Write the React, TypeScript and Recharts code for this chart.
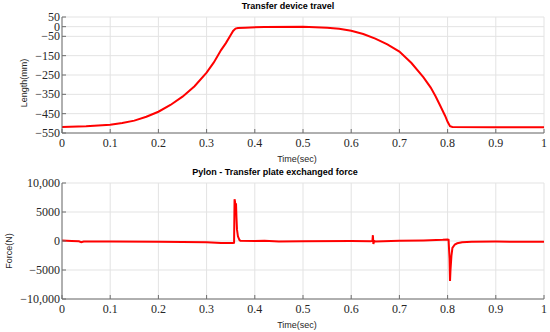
import { LineChart, Line, XAxis, YAxis, CartesianGrid, Label } from "recharts"

const timeTicks = [0, 0.1, 0.2, 0.3, 0.4, 0.5, 0.6, 0.7, 0.8, 0.9, 1]
const lengthTicks = [50, 0, -50, -150, -250, -350, -450, -550]
const forceTicks = [10000, 5000, 0, -5000, -10000]

const travelTime = [
  0, 0.05, 0.1, 0.125, 0.15, 0.175, 0.2, 0.225, 0.25, 0.275, 0.3, 0.315, 0.33, 0.34, 0.35,
  0.355, 0.36, 0.365, 0.38, 0.42, 0.5, 0.55, 0.575, 0.6, 0.625, 0.65, 0.675, 0.7, 0.725,
  0.75, 0.765, 0.775, 0.785, 0.795, 0.8, 0.805, 0.81, 0.9, 1,
]
const travelLength = [
  -519, -515, -507, -498, -486, -466, -440, -405, -362, -308, -238, -185, -121, -85, -43,
  -22, -10, -7, -5, -2, -1, -5, -11, -21, -38, -62, -92, -129, -188,
  -262, -315, -360, -410, -462, -492, -515, -519, -520, -520,
]

const forceTime = [
  0, 0.01, 0.02, 0.035, 0.04, 0.045, 0.1, 0.2, 0.3, 0.33, 0.355, 0.357, 0.358, 0.359, 0.36,
  0.361, 0.362, 0.363, 0.365, 0.368, 0.37, 0.4, 0.42, 0.45, 0.5, 0.6, 0.64, 0.644, 0.645,
  0.646, 0.647, 0.648, 0.65, 0.7, 0.75, 0.79, 0.8, 0.802, 0.804, 0.805, 0.806, 0.808, 0.81,
  0.815, 0.82, 0.83, 0.85, 0.9, 1,
]
const forceValues = [
  100, 50, 0, -50, -200, -80, -80, -120, -200, -350, -350, -300, 7200, 6800, 5000,
  6500, 4000, 2000, 800, 200, 50, 0, 50, -100, -50, 0, -50, 0, 1000,
  -500, -200, 0, -80, 50, 100, 200, 250, 200, -3000, -6900, -5000, -2500, -1200,
  -600, -400, -200, -150, -100, -150,
]

const travelData = travelTime.map((t, i) => ({ t, v: travelLength[i] }))
const forceData = forceTime.map((t, i) => ({ t, v: forceValues[i] }))

const serif = "'Liberation Serif', 'Times New Roman', serif"
const sans = "'Liberation Sans', Arial, sans-serif"
const axisColor = "#6e6e6e"
const textColor = "#262626"

const fmtNum = (v: number) => {
  const abs = Math.abs(v)
  const s = abs >= 10000 ? abs.toLocaleString("en-US") : String(abs)
  return v < 0 ? "\u2212" + s : s
}

function XTick(props: any) {
  const { x, y, payload } = props
  return (
    <text
      x={x}
      y={y}
      dy={9}
      textAnchor="middle"
      style={{ fontFamily: serif, fontSize: 12 }}
      fill={textColor}
    >
      {String(payload.value)}
    </text>
  )
}

function YTick(props: any) {
  const { x, y, payload } = props
  return (
    <text
      x={x}
      y={y}
      dy={4}
      textAnchor="end"
      style={{ fontFamily: serif, fontSize: 12 }}
      fill={textColor}
    >
      {fmtNum(payload.value)}
    </text>
  )
}

interface PanelProps {
  title: string
  titleX: number
  yLabel: string
  yLabelX: number
  yLabelShift: number
  data: { t: number; v: number }[]
  domain: [number, number]
  yTicks: number[]
}

function Panel({ title, titleX, yLabel, yLabelX, yLabelShift, data, domain, yTicks }: PanelProps) {
  return (
    <div style={{ position: "relative", width: 550, height: 166 }}>
      <div
        style={{
          position: "absolute",
          left: titleX,
          top: 1,
          transform: "translateX(-50%)",
          fontFamily: sans,
          fontWeight: "bold",
          fontSize: 9,
          color: "#000",
          whiteSpace: "nowrap",
        }}
      >
        {title}
      </div>
      <LineChart
        width={550}
        height={166}
        data={data}
        margin={{ top: 17, right: 6, left: 0, bottom: 0 }}
      >
        <CartesianGrid stroke="#e3e3e3" />
        <XAxis
          dataKey="t"
          type="number"
          domain={[0, 1]}
          ticks={timeTicks}
          interval={0}
          height={33}
          tickSize={-4}
          tickMargin={9}
          stroke={axisColor}
          tick={<XTick />}
        >
          <Label
            value="Time(sec)"
            position="insideBottom"
            offset={4}
            dx={-6}
            style={{ fontFamily: sans, fontSize: 9, fill: textColor }}
          />
        </XAxis>
        <XAxis
          xAxisId="top"
          dataKey="t"
          type="number"
          orientation="top"
          domain={[0, 1]}
          ticks={timeTicks}
          interval={0}
          height={0}
          tickSize={-4}
          tick={false}
          stroke={axisColor}
        />
        <YAxis
          type="number"
          domain={domain}
          ticks={yTicks}
          interval={0}
          width={62}
          tickSize={-4}
          tickMargin={6}
          stroke={axisColor}
          tick={<YTick />}
        >
          <Label
            content={(p: any) => {
              const vb = p.viewBox
              const cy = vb.y + vb.height / 2 + yLabelShift
              return (
                <text
                  x={yLabelX}
                  y={cy}
                  transform={`rotate(-90 ${yLabelX} ${cy})`}
                  textAnchor="middle"
                  dominantBaseline="central"
                  style={{ fontFamily: sans, fontSize: 9 }}
                  fill={textColor}
                >
                  {yLabel}
                </text>
              )
            }}
          />
        </YAxis>
        <YAxis
          yAxisId="right"
          orientation="right"
          type="number"
          domain={domain}
          ticks={yTicks}
          interval={0}
          width={0}
          tickSize={-4}
          tick={false}
          stroke={axisColor}
        />
        <Line
          dataKey="v"
          type="linear"
          stroke="#ff0000"
          strokeWidth={2}
          dot={false}
          isAnimationActive={false}
        />
      </LineChart>
    </div>
  )
}

export default function App() {
  return (
    <div style={{ position: "absolute", left: 0, top: 0, width: 550, height: 332, background: "#fff" }}>
      <Panel
        title="Transfer device travel"
        titleX={288}
        yLabel="Length(mm)"
        yLabelX={24}
        yLabelShift={8}
        data={travelData}
        domain={[-550, 50]}
        yTicks={lengthTicks}
      />
      <Panel
        title="Pylon - Transfer plate exchanged force"
        titleX={275}
        yLabel="Force(N)"
        yLabelX={9}
        yLabelShift={10}
        data={forceData}
        domain={[-10000, 10000]}
        yTicks={forceTicks}
      />
    </div>
  )
}
